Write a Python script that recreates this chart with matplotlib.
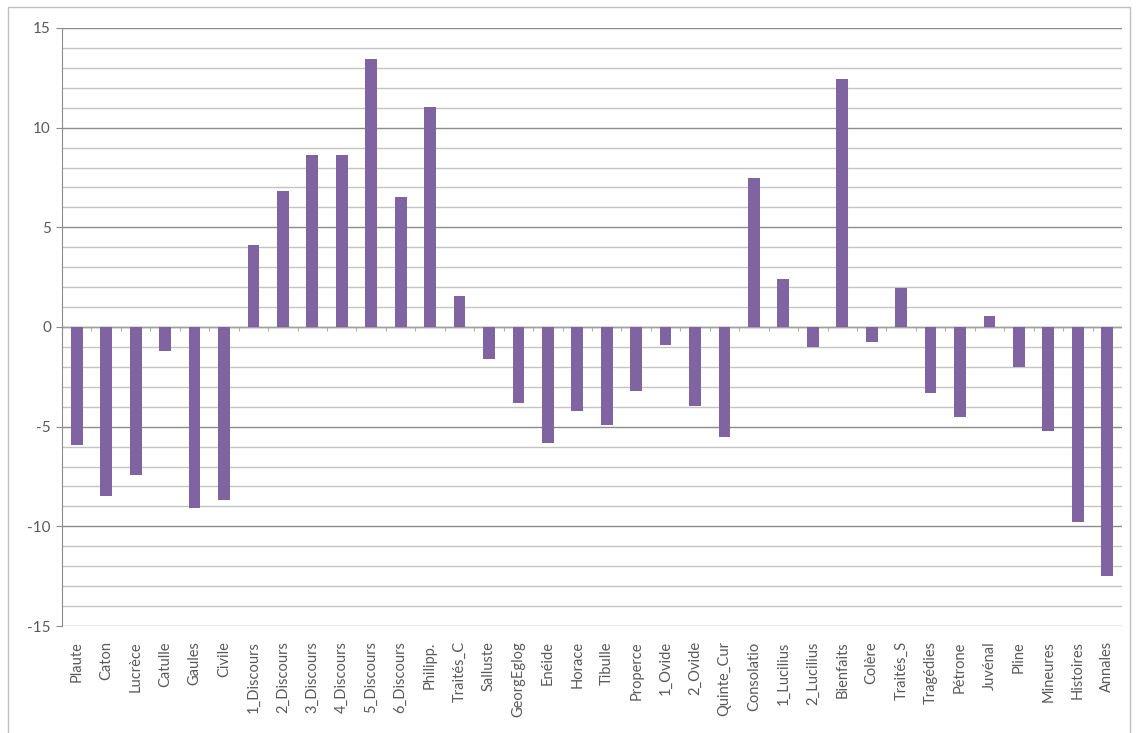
import numpy as np
import matplotlib.pyplot as plt
from matplotlib.patches import Rectangle

# Données
oeuvres = ['Plaute', 'Caton', 'Lucrèce', 'Catulle', 'Gaules', 'Civile',
           '1_Discours', '2_Discours', '3_Discours', '4_Discours', '5_Discours', '6_Discours',
           'Philipp.', 'Traités_C', 'Salluste', 'GeorgEglog', 'Enéide', 'Horace',
           'Tibulle', 'Properce', '1_Ovide', '2_Ovide', 'Quinte_Cur', 'Consolatio',
           '1_Lucilius', '2_Lucilius', 'Bienfaits', 'Colère', 'Traités_S', 'Tragédies',
           'Pétrone', 'Juvénal', 'Pline', 'Mineures', 'Histoires', 'Annales']
valeurs = [-5.9, -8.5, -7.4, -1.2, -9.1, -8.7,
           4.1, 6.8, 8.65, 8.65, 13.45, 6.5,
           11.05, 1.55, -1.6, -3.8, -5.8, -4.2,
           -4.9, -3.2, -0.9, -3.95, -5.5, 7.45,
           2.4, -1.0, 12.45, -0.75, 1.95, -3.3,
           -4.5, 0.55, -2.0, -5.2, -9.8, -12.5]
graduations = [-15, -10, -5, 0, 5, 10, 15]

violet = '#8064A2'
gris_texte = '#595959'

plt.rcParams['font.family'] = ['Lato', 'DejaVu Sans']
plt.rcParams['axes.unicode_minus'] = False

fig = plt.figure(figsize=(11.36, 7.33), dpi=100)
ax = fig.add_axes([62 / 1136, 1 - 626 / 733, (1122 - 62) / 1136, (626 - 28) / 733])

x = np.arange(len(oeuvres))

# quadrillage principal et secondaire
ax.set_ylim(-15, 15)
ax.set_yticks(graduations)
ax.set_yticks(np.arange(-15, 16, 1), minor=True)
ax.grid(axis='y', which='minor', color='#c4c4c4', linewidth=1.0)
ax.grid(axis='y', which='major', color='#8c8c8c', linewidth=1.0)
ax.set_axisbelow(True)

ax.bar(x, valeurs, width=0.4, color=violet, zorder=3)

# axe horizontal au niveau zéro avec petites graduations entre catégories
ax.axhline(0, color='#a0a0a0', linewidth=1.0, zorder=2)
ax.vlines(np.arange(len(oeuvres) + 1) - 0.5, -0.2, 0, color='#b0b0a0', linewidth=0.8, zorder=2)

ax.set_xlim(-0.5, len(oeuvres) - 0.5)
ax.set_xticks(x)
ax.set_xticklabels(oeuvres, rotation=90, fontsize=10.5, color=gris_texte)
ax.tick_params(axis='x', length=0, pad=11)
ax.tick_params(axis='y', which='major', length=4, pad=4, color='#8c8c8c', labelsize=11, labelcolor=gris_texte)
ax.tick_params(axis='y', which='minor', length=0)

for cote in ['top', 'right', 'bottom']:
    ax.spines[cote].set_visible(False)
ax.spines['left'].set_color('#8c8c8c')

# cadre extérieur du graphique
fig.patches.append(Rectangle((8 / 1136, -0.05), (1130 - 8) / 1136, 1.05 - 7 / 733,
                             transform=fig.transFigure, fill=False,
                             edgecolor='#bfbfbf', linewidth=1.0))

fig.savefig('out.png', dpi=100)
